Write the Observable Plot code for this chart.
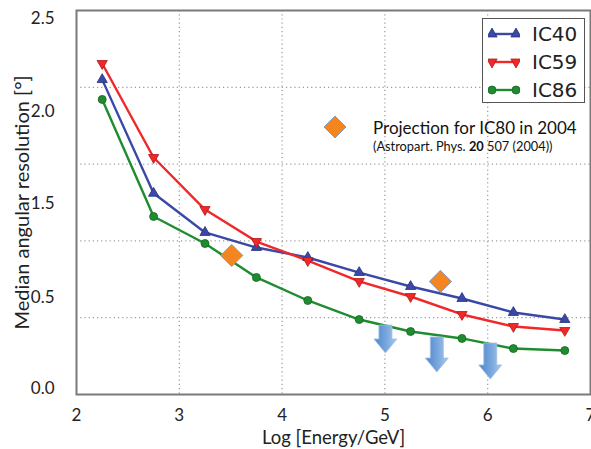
<!DOCTYPE html>
<html><head><meta charset="utf-8">
<script src="https://cdn.jsdelivr.net/npm/d3@7"></script>
<script src="https://cdn.jsdelivr.net/npm/@observablehq/plot@0.6"></script>
<style>
body{margin:0;background:#fff;}
#wrap{position:relative;width:591px;height:449px;font-family:Lato,sans-serif;}
#legend{position:absolute;left:482px;top:18px;width:101px;height:83px;border:1.5px solid #555;background:#fff;font-family:"DejaVu Sans",sans-serif;font-size:20px;}
.row{position:absolute;left:0;height:28px;display:flex;align-items:center;}
.row svg{margin-left:5px;}
.row span{margin-left:12px;color:#222;}
#proj{position:absolute;left:322px;top:114px;}
#proj .t1{position:absolute;left:51px;top:3px;font-size:17px;white-space:nowrap;color:#111;}
#proj .t2{position:absolute;left:51px;top:24px;font-size:12.8px;white-space:nowrap;color:#111;}
</style></head><body><div id="wrap"></div>
<script>
const energies = [2.25, 2.75, 3.25, 3.75, 4.25, 4.75, 5.25, 5.75, 6.25, 6.75];
const ic40 = [2.05, 1.31, 1.055, 0.957, 0.892, 0.794, 0.703, 0.625, 0.534, 0.488];
const ic59 = [2.155, 1.543, 1.204, 0.996, 0.872, 0.736, 0.638, 0.521, 0.443, 0.417];
const ic86 = [1.921, 1.159, 0.983, 0.762, 0.612, 0.488, 0.41, 0.365, 0.299, 0.286];
const seriesNames = ["IC40", "IC59", "IC86"];
const seriesColors = ["#3a49a6", "#f02828", "#1f8c30"];
const markerEdges = ["#27307a", "#b01818", "#15651f"];
const projEnergy = [3.51, 5.54];
const projRes = [0.905, 0.736];
const limitEnergy = [5.01, 5.51, 6.03];
const limitFrom = [0.449, 0.371, 0.332];
const limitTo = [0.267, 0.143, 0.098];
const yTickAt = [2.45, 1.84, 1.24, 0.63, 0.04];
const yTickLabels = ["2.5", "2.0", "1.5", "0.5", "0.0"];
const xTicks = [2, 3, 4, 5, 6, 7];
const gridY = [0.5, 1, 1.5, 2];
const gridX = [3, 4, 5, 6];
const projLabel = "Projection for IC80 in 2004";

const seriesValues = [ic40, ic59, ic86];
const rows = seriesNames.flatMap((s, k) => energies.map((e, i) => ({series: s, energy: e, res: seriesValues[k][i]})));
const proj = projEnergy.map((e, i) => ({energy: e, res: projRes[i]}));

const triDown = {draw(ctx, size) {
  const y = Math.sqrt(size / (3 * Math.sqrt(3)));
  ctx.moveTo(0, 2 * y);
  ctx.lineTo(Math.sqrt(3) * y, -y);
  ctx.lineTo(-Math.sqrt(3) * y, -y);
  ctx.closePath();
}};
const symbols = [d3.symbolTriangle, triDown, d3.symbolCircle];
const markerR = [3.8, 3.8, 4];

const tickMap = new Map(yTickAt.map((v, i) => [v, yTickLabels[i]]));

function arrows(index, scales) {
  const g = d3.create("svg:g");
  const grad = g.append("defs").append("linearGradient").attr("id", "arrowGrad")
    .attr("x1", 0).attr("x2", 1).attr("y1", 0).attr("y2", 0);
  grad.append("stop").attr("offset", "0%").attr("stop-color", "#4e84cb");
  grad.append("stop").attr("offset", "55%").attr("stop-color", "#7aa7de");
  grad.append("stop").attr("offset", "100%").attr("stop-color", "#a9c9ef");
  limitEnergy.forEach((e, i) => {
    const x = scales.x(e), y0 = scales.y(limitFrom[i]), y1 = scales.y(limitTo[i]);
    const sw = 6.5, hw = 11.5, hl = 14;
    const d = `M${x - sw},${y0}L${x + sw},${y0}L${x + sw},${y1 - hl}L${x + hw},${y1 - hl}L${x},${y1}L${x - hw},${y1 - hl}L${x - sw},${y1 - hl}Z`;
    g.append("path").attr("d", d).attr("fill", "url(#arrowGrad)").attr("stroke", "#9fbfe6").attr("stroke-width", 0.8);
  });
  return g.node();
}

const chart = Plot.plot({
  width: 591, height: 449,
  marginLeft: 76, marginRight: 1, marginTop: 10, marginBottom: 55,
  x: {domain: [2, 7]},
  y: {domain: [0, 2.5]},
  style: {fontFamily: "Lato, sans-serif", background: "white", color: "#222"},
  marks: [
    Plot.ruleY(gridY, {stroke: "#9a9a9a", strokeWidth: 1.2, strokeDasharray: "1.2,3"}),
    Plot.ruleX(gridX, {stroke: "#9a9a9a", strokeWidth: 1.2, strokeDasharray: "1.2,3"}),
    ...seriesNames.map((s, k) => Plot.line(rows.filter(d => d.series === s), {x: "energy", y: "res", stroke: seriesColors[k], strokeWidth: 2.4})),
    ...seriesNames.map((s, k) => Plot.dot(rows.filter(d => d.series === s), {x: "energy", y: "res", symbol: symbols[k], r: markerR[k], fill: seriesColors[k], stroke: markerEdges[k], strokeWidth: 0.8})),
    Plot.dot(proj, {x: "energy", y: "res", symbol: "diamond2", r: 10, fill: "#f5861f", stroke: "#8a9ab5", strokeWidth: 1}),
    arrows,
    Plot.frame({stroke: "#7a7a7a", strokeWidth: 2}),
    Plot.axisX(xTicks, {tickSize: 0, tickPadding: 14, fontSize: 17, label: null}),
    Plot.axisY(yTickAt, {tickSize: 0, tickPadding: 22, fontSize: 17, tickFormat: d => tickMap.get(d), label: null}),
    Plot.text(["Log [Energy/GeV]"], {frameAnchor: "bottom", lineAnchor: "middle", textAnchor: "middle", dy: 44, fontSize: 18.5, fill: "#222"}),
    Plot.text(["Median angular resolution [°]"], {frameAnchor: "left", lineAnchor: "middle", textAnchor: "middle", rotate: -90, dx: -54, fontSize: 20, fill: "#222"})
  ]
});
const wrap = document.getElementById("wrap");
wrap.appendChild(chart);

// legend
const legend = document.createElement("div");
legend.id = "legend";
const rowTops = [1, 29, 57];
seriesNames.forEach((s, k) => {
  const row = document.createElement("div");
  row.className = "row";
  row.style.top = rowTops[k] + "px";
  const col = seriesColors[k];
  const p = d3.symbol(symbols[k], Math.PI * markerR[k] * markerR[k])();
  row.innerHTML = `<svg width="32" height="14" viewBox="0 0 32 14"><line x1="4" x2="28" y1="7" y2="7" stroke="${col}" stroke-width="2.4"/><path d="${p}" transform="translate(4,7)" fill="${col}" stroke="${markerEdges[k]}" stroke-width="0.8"/><path d="${p}" transform="translate(28,7)" fill="${col}" stroke="${markerEdges[k]}" stroke-width="0.8"/></svg><span>${s}</span>`;
  legend.appendChild(row);
});
wrap.appendChild(legend);

// projection annotation
const pr = document.createElement("div");
pr.id = "proj";
pr.innerHTML = `<svg width="28" height="28" style="position:absolute;left:0;top:0"><path d="M13,2L24,13L13,24L2,13Z" fill="#f5861f" stroke="#8a9ab5" stroke-width="1"/></svg><div class="t1">${projLabel}</div><div class="t2">(Astropart. Phys. <b>20</b> 507 (2004))</div>`;
wrap.appendChild(pr);
</script>
</body></html>
